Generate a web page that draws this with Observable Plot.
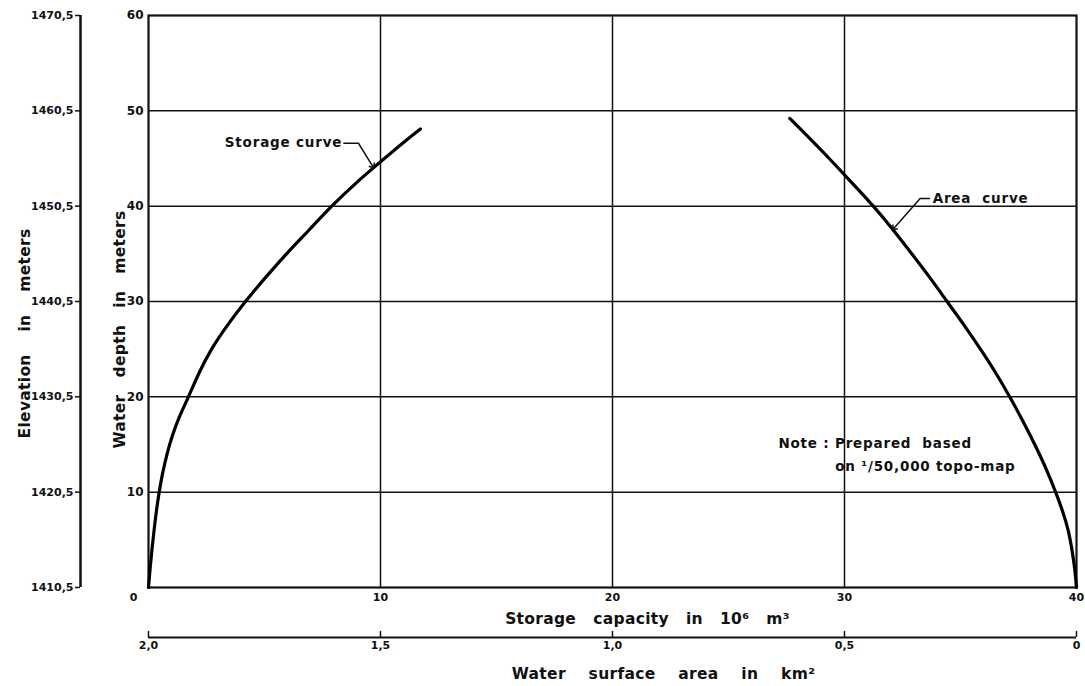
<!DOCTYPE html>
<html><head><meta charset="utf-8">
<script src="https://cdn.jsdelivr.net/npm/d3@7"></script>
<script src="https://cdn.jsdelivr.net/npm/@observablehq/plot@0.6"></script>
<style>
body{margin:0;background:#fff}
#chart{position:relative;width:1085px;height:686px;background:#fff}
#chart svg{position:absolute;left:0;top:0}
#chart g[font-size="13.5"] text{letter-spacing:0.8px}
#chart g[font-size="15.5"] text{letter-spacing:0.3px}
</style></head><body><div id="chart"></div>
<script>
// Storage curve: water depth (m) vs storage capacity (10^6 m^3)
const storageDepth  = [0, 2, 4, 6, 8, 10, 12, 14, 16, 18, 20, 22.5, 25, 27.5, 30, 32.5, 35, 37.5, 40, 42.5, 44.5, 46.5, 48.1];
const storageValues = [0, 0.07, 0.15, 0.24, 0.34, 0.46, 0.61, 0.80, 1.04, 1.35, 1.72, 2.18, 2.72, 3.40, 4.18, 5.04, 5.95, 6.92, 7.90, 8.98, 9.93, 10.90, 11.72];
// Area curve: water depth (m) vs water surface area (km^2)
const areaDepth  = [0, 2, 4, 6, 8, 10, 12.5, 15, 17.5, 20, 22.5, 25, 27.5, 30, 32.5, 35, 37.5, 40, 42.5, 45, 47.5, 49.2];
const areaValues = [0, 0.004, 0.010, 0.018, 0.030, 0.045, 0.066, 0.090, 0.116, 0.144, 0.174, 0.207, 0.242, 0.279, 0.316, 0.355, 0.395, 0.438, 0.485, 0.533, 0.583, 0.618];

// Axes / tick labels
const depthTicks = [10, 20, 30, 40, 50, 60];
const storageTicks = [10, 20, 30, 40];
const areaTicks = [2.0, 1.5, 1.0, 0.5, 0];
const elevationTicks = [1410.5, 1420.5, 1430.5, 1440.5, 1450.5, 1460.5, 1470.5];
const gridDepth = [10, 20, 30, 40, 50];
const gridStorage = [10, 20, 30];

// Texts
const nb = "\u00a0";
const storageTitle = ["Storage", "capacity", "in", "10\u2076", "m\u00b3"].join(nb + nb + nb);
const areaTitle = ["Water", "surface", "area", "in", "km\u00b2"].join(nb + nb + nb + nb);
const depthTitle = ["Water", "depth", "in", "meters"].join(nb + nb + nb);
const elevationTitle = ["Elevation", "in", "meters"].join(nb + nb + nb + nb);
const storageLabel = [{storage: 8.35, depth: 46.7, text: "Storage curve"}];
const storageLeader = [{storage: 8.42, depth: 46.6}, {storage: 9.05, depth: 46.6}, {storage: 9.66, depth: 44.2}];
const areaLabel = [{area: 0.31, depth: 40.8, text: "Area" + nb + nb + "curve"}];
const areaLeader = [{area: 0.317, depth: 40.8}, {area: 0.337, depth: 40.8}, {area: 0.393, depth: 37.7}];
const noteLines = [
  {storage: 27.15, depth: 15.1, text: "Note : Prepared" + nb + nb + "based"},
  {storage: 29.6, depth: 12.7, text: "on \u00b9/50,000 topo-map"}
];

const W = 1085, H = 686;
const margins = {marginTop: 15, marginRight: 9, marginBottom: 99, marginLeft: 148};
const font = "'DejaVu Sans', sans-serif";
const comma1 = v => v === 0 ? "0" : v.toFixed(1).replace(".", ",");

const storageData = storageDepth.map((d, i) => ({depth: d, storage: storageValues[i]}));
const areaData = areaDepth.map((d, i) => ({depth: d, area: areaValues[i]}));

const baseStyle = {fontFamily: font, background: "transparent", color: "#111", overflow: "visible"};

const main = Plot.plot({
  width: W, height: H, ...margins,
  style: baseStyle,
  x: {domain: [0, 40]},
  y: {domain: [0, 60]},
  marks: [
    Plot.ruleX(gridStorage, {stroke: "#111", strokeWidth: 1.5}),
    Plot.ruleY(gridDepth, {stroke: "#111", strokeWidth: 1.5}),
    Plot.frame({stroke: "#111", strokeWidth: 2.2}),
    Plot.line(storageData, {x: "storage", y: "depth", stroke: "#000", strokeWidth: 3.2, curve: "natural"}),
    Plot.axisY(depthTicks, {anchor: "left", tickSize: 0, tickPadding: 5, fontSize: 12, fontWeight: "bold", label: null}),
    Plot.axisX(storageTicks, {anchor: "bottom", tickSize: 0, tickPadding: 6, fontSize: 11, fontWeight: "bold", label: null}),
    Plot.axisX([0], {anchor: "bottom", tickSize: 0, tickPadding: 6, dx: -15, fontSize: 11, fontWeight: "bold", label: null}),
    Plot.ruleX([0], {dx: -68, stroke: "#111", strokeWidth: 2.5}),
    Plot.text([storageTitle], {frameAnchor: "bottom", dx: 35, dy: 32, fontSize: 15.5, fontWeight: "bold", lineAnchor: "middle"}),
    Plot.text([depthTitle], {frameAnchor: "left", textAnchor: "middle", rotate: -90, dx: -28, dy: 28, fontSize: 15.5, fontWeight: "bold", lineAnchor: "middle"}),
    Plot.text([elevationTitle], {frameAnchor: "left", textAnchor: "middle", rotate: -90, dx: -123, dy: 32, fontSize: 15.5, fontWeight: "bold", lineAnchor: "middle"}),
    Plot.text(storageLabel, {x: "storage", y: "depth", text: "text", textAnchor: "end", fontSize: 13.5, fontWeight: "bold"}),
    Plot.line(storageLeader, {x: "storage", y: "depth", stroke: "#111", strokeWidth: 1.5, markerEnd: "arrow"}),
    Plot.text(noteLines, {x: "storage", y: "depth", text: "text", textAnchor: "start", fontSize: 13.5, fontWeight: "bold"})
  ]
});

const areaLayer = Plot.plot({
  width: W, height: H, ...margins,
  style: baseStyle,
  x: {domain: [2, 0]},
  y: {domain: [0, 60], axis: null},
  marks: [
    Plot.line(areaData, {x: "area", y: "depth", stroke: "#000", strokeWidth: 3.2, curve: "natural"}),
    Plot.ruleY([0], {dy: 50, stroke: "#111", strokeWidth: 2}),
    Plot.axisX(areaTicks, {anchor: "bottom", dy: 44, tickSize: 6, tickPadding: 4, tickFormat: comma1, fontSize: 11, fontWeight: "bold", label: null, strokeWidth: 1.5}),
    Plot.text([areaTitle], {frameAnchor: "bottom", dx: 51, dy: 87, fontSize: 15.5, fontWeight: "bold", lineAnchor: "middle"}),
    Plot.text(areaLabel, {x: "area", y: "depth", text: "text", textAnchor: "start", fontSize: 13.5, fontWeight: "bold"}),
    Plot.line(areaLeader, {x: "area", y: "depth", stroke: "#111", strokeWidth: 1.5, markerEnd: "arrow"})
  ]
});

const elevLayer = Plot.plot({
  width: W, height: H, ...margins,
  style: baseStyle,
  y: {domain: [1410.5, 1470.5]},
  marks: [
    Plot.axisY(elevationTicks, {anchor: "left", dx: -68, tickSize: 5, tickPadding: 2, tickFormat: v => v.toFixed(1).replace(".", ","), fontSize: 11, fontWeight: "bold", label: null, strokeWidth: 1.5})
  ]
});

const el = document.getElementById("chart");
el.append(main, areaLayer, elevLayer);
</script></body></html>
